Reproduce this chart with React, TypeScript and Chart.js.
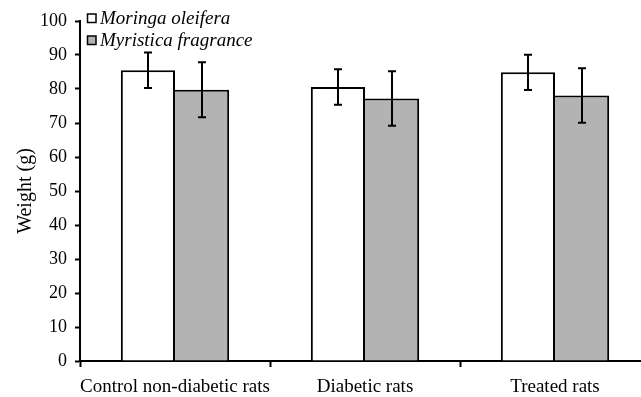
import React, { useEffect, useRef } from 'react';
import { Chart, registerables } from 'chart.js';

Chart.register(...registerables);

const categories = ['Control non-diabetic rats', 'Diabetic rats', 'Treated rats'];
const seriesNames = ['Moringa oleifera', 'Myristica fragrance'];
const moringaValues = [85.5, 80.6, 84.9];
const moringaErrors = [5.2, 5.2, 5.2];
const myristicaValues = [79.8, 77.2, 78.1];
const myristicaErrors = [8.1, 8.0, 8.0];
const seriesColors = ['#ffffff', '#b3b3b3'];
const yAxisTitle = 'Weight (g)';

const FONT = '"Liberation Serif", "Times New Roman", serif';
const errorsBySeries = [moringaErrors, myristicaErrors];

const errorBarPlugin = {
  id: 'errorBars',
  afterDatasetsDraw(chart: any) {
    const ctx = chart.ctx;
    const y = chart.scales.y;
    chart.data.datasets.forEach((ds: any, i: number) => {
      const meta = chart.getDatasetMeta(i);
      meta.data.forEach((bar: any, j: number) => {
        const v = ds.data[j];
        const e = errorsBySeries[i][j];
        const x = Math.round(bar.x);
        const yt = y.getPixelForValue(v + e);
        const yb = y.getPixelForValue(v - e);
        ctx.save();
        ctx.strokeStyle = '#000';
        ctx.lineWidth = 2;
        ctx.beginPath();
        ctx.moveTo(x, yt);
        ctx.lineTo(x, yb);
        ctx.moveTo(x - 4, yt);
        ctx.lineTo(x + 4, yt);
        ctx.moveTo(x - 4, yb);
        ctx.lineTo(x + 4, yb);
        ctx.stroke();
        ctx.restore();
      });
    });
  },
};

const legendPlugin = {
  id: 'customLegend',
  afterDraw(chart: any) {
    const ctx = chart.ctx;
    const left = chart.chartArea.left;
    chart.data.datasets.forEach((ds: any, i: number) => {
      const baseline = 24 + i * 22;
      const bx = left + 7.5;
      const by = baseline - 10;
      ctx.save();
      ctx.fillStyle = ds.backgroundColor;
      ctx.fillRect(bx, by, 8.5, 8.5);
      ctx.strokeStyle = '#000';
      ctx.lineWidth = 1.5;
      ctx.strokeRect(bx, by, 8.5, 8.5);
      ctx.fillStyle = '#000';
      ctx.font = `italic 19px ${FONT}`;
      ctx.textBaseline = 'alphabetic';
      ctx.textAlign = 'left';
      ctx.fillText(ds.label, left + 20, baseline);
      ctx.restore();
    });
  },
};

export default function App() {
  const canvasRef = useRef<HTMLCanvasElement | null>(null);

  useEffect(() => {
    document.documentElement.style.overflow = 'hidden';
    document.body.style.overflow = 'hidden';
    const canvas = canvasRef.current;
    if (!canvas) return;
    const chart = new Chart(canvas, {
      type: 'bar',
      data: {
        labels: categories,
        datasets: [
          {
            label: seriesNames[0],
            data: moringaValues,
            backgroundColor: seriesColors[0],
            borderColor: '#000',
            borderWidth: 2,
            inflateAmount: 0,
            categoryPercentage: 0.57,
            barPercentage: 1.0,
          },
          {
            label: seriesNames[1],
            data: myristicaValues,
            backgroundColor: seriesColors[1],
            borderColor: '#000',
            borderWidth: { left: 0, top: 2, right: 2, bottom: 0 },
            inflateAmount: 0,
            categoryPercentage: 0.57,
            barPercentage: 1.0,
          },
        ],
      },
      options: {
        responsive: false,
        animation: false,
        layout: { padding: { top: 21, right: 10, left: 0, bottom: 0 } },
        plugins: {
          legend: { display: false },
          tooltip: { enabled: false },
        },
        scales: {
          x: {
            grid: {
              drawOnChartArea: false,
              drawTicks: true,
              tickLength: 6,
              tickWidth: 2,
              tickColor: '#000',
              offset: true,
            },
            border: { display: true, color: '#000', width: 2 },
            ticks: {
              color: '#000',
              font: { family: FONT, size: 19 },
              padding: 9,
              maxRotation: 0,
              autoSkip: false,
            },
            afterFit(scale: any) {
              scale.height = 36;
            },
          },
          y: {
            min: 0,
            max: 100,
            grid: {
              drawOnChartArea: false,
              drawTicks: true,
              tickLength: 5,
              tickWidth: 2,
              tickColor: '#000',
            },
            border: { display: true, color: '#000', width: 2 },
            ticks: {
              stepSize: 10,
              color: '#000',
              font: { family: FONT, size: 18 },
              padding: 8,
            },
            title: {
              display: true,
              text: yAxisTitle,
              color: '#000',
              font: { family: FONT, size: 20 },
              padding: { top: 14, bottom: 0 },
            },
            afterFit(scale: any) {
              scale.width = 80;
            },
          },
        },
      },
      plugins: [errorBarPlugin, legendPlugin],
    });
    return () => chart.destroy();
  }, []);

  return (
    <div style={{ position: 'absolute', left: 0, top: 0, width: 660, height: 397, background: '#fff' }}>
      <canvas ref={canvasRef} width={660} height={397} style={{ display: 'block' }} />
    </div>
  );
}
